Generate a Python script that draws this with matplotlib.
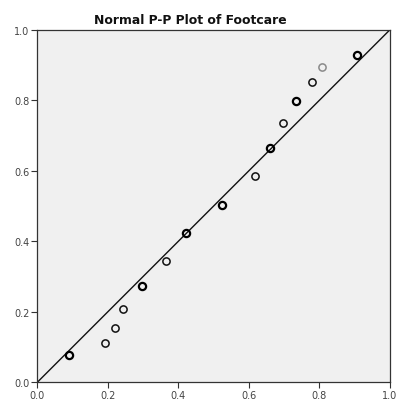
import matplotlib
matplotlib.use("Agg")
import matplotlib.pyplot as plt

# Observed cumulative probability (x) vs expected cumulative probability (y)
observed = [0.090, 0.193, 0.220, 0.244, 0.296, 0.365, 0.421, 0.524, 0.617,
            0.659, 0.697, 0.734, 0.780, 0.808, 0.906]
expected = [0.077, 0.112, 0.155, 0.209, 0.273, 0.345, 0.423, 0.504, 0.586,
            0.664, 0.735, 0.797, 0.851, 0.894, 0.928]
# overlap counts (darker markers = overlapping cases)
overlap = [2, 1, 1, 1, 2, 1, 2, 2, 1, 2, 1, 2, 1, 0, 2]

ticks = [0.0, 0.2, 0.4, 0.6, 0.8, 1.0]
tick_labels = ["0.0", "0.2", "0.4", "0.6", "0.8", "1.0"]
title = "Normal P-P Plot of Footcare"

W, H = 404, 402
fig = plt.figure(figsize=(W / 100, H / 100), dpi=100)
fig.patch.set_facecolor("white")
ax = fig.add_axes([37.3 / W, (H - 383.3) / H, (390 - 37.3) / W, (383.3 - 30.7) / H])
ax.set_facecolor("#f0f0f0")

ax.plot([0, 1], [0, 1], color="#111111", lw=1.0, zorder=2)

for x, y, c in zip(observed, expected, overlap):
    if c == 0:
        ec, lw = "#8a8a8a", 1.1
    elif c == 1:
        ec, lw = "#111111", 1.1
    else:
        ec, lw = "#000000", 1.6
    ax.plot([x], [y], marker="o", ms=5.2, mfc="none", mec=ec, mew=lw,
            linestyle="none", zorder=3)

ax.set_xlim(0, 1)
ax.set_ylim(0, 1)
ax.set_xticks(ticks)
ax.set_xticklabels(tick_labels)
ax.set_yticks(ticks)
ax.set_yticklabels(tick_labels)
ax.tick_params(axis="both", direction="out", length=4, width=0.8,
               color="#333333", labelsize=7, labelcolor="#444444", pad=1.5)
for s in ax.spines.values():
    s.set_color("#333333")
    s.set_linewidth(0.9)

fig.text(190 / W, 1 - 20 / H, title, ha="center", va="center",
         fontsize=8.9, fontweight="bold", color="#111111")

fig.savefig("out.png", dpi=100)
